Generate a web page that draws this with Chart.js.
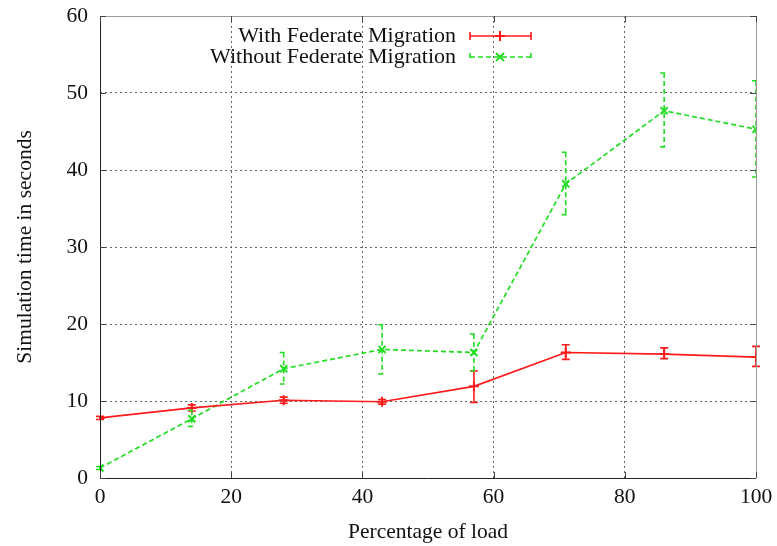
<!DOCTYPE html>
<html>
<head>
<meta charset="utf-8">
<script src="https://cdn.jsdelivr.net/npm/chart.js@4/dist/chart.umd.min.js"></script>
<style>
  html, body { margin: 0; padding: 0; background: #fff; }
  #wrap { width: 777px; height: 546px; }
</style>
</head>
<body>
<div id="wrap"><canvas id="simChart" width="777" height="546"></canvas></div>
<script>
// load levels (x axis)
const loadPct = [0, 14, 28, 43, 57, 71, 86, 100];

// with federate migration
const withMig = [7.8, 9.1, 10.1, 9.9, 11.9, 16.3, 16.1, 15.7];
const withLow = [7.6, 8.7, 9.7, 9.6, 9.8, 15.4, 15.5, 14.5];
const withHigh = [8.0, 9.5, 10.5, 10.2, 13.9, 17.3, 16.9, 17.1];

// without federate migration
const withoutMig = [1.3, 7.7, 14.2, 16.7, 16.3, 38.2, 47.7, 45.3];
const withoutLow = [1.1, 6.7, 12.2, 13.5, 13.9, 34.2, 43.0, 39.1];
const withoutHigh = [1.5, 8.8, 16.3, 19.9, 18.7, 42.3, 52.6, 51.6];

const seriesNames = ['With Federate Migration', 'Without Federate Migration'];
const xTicks = [0, 20, 40, 60, 80, 100];
const yTicks = [0, 10, 20, 30, 40, 50, 60];

const RED = '#ff1a1a';
const GREEN = '#22dd22';
const FONT = "'Liberation Serif', 'DejaVu Serif', serif";

function toPoints(xs, ys) {
  return xs.map((x, i) => ({ x: x, y: ys[i] }));
}

const errorBars = [
  { low: withLow, high: withHigh, color: RED, dash: [] },
  { low: withoutLow, high: withoutHigh, color: GREEN, dash: [5, 3] }
];

// error bars drawn through the chart scales
const errorBarPlugin = {
  id: 'errorBars',
  afterDatasetsDraw(chart) {
    const ctx = chart.ctx;
    const xs = chart.scales.x, ys = chart.scales.y;
    ctx.save();
    errorBars.forEach(eb => {
      ctx.strokeStyle = eb.color;
      ctx.lineWidth = 1.6;
      ctx.setLineDash(eb.dash);
      loadPct.forEach((v, i) => {
        const px = xs.getPixelForValue(v);
        const top = ys.getPixelForValue(eb.high[i]);
        const bot = ys.getPixelForValue(eb.low[i]);
        ctx.beginPath();
        ctx.moveTo(px, top); ctx.lineTo(px, bot);
        ctx.moveTo(px - 4, top); ctx.lineTo(px + 4, top);
        ctx.moveTo(px - 4, bot); ctx.lineTo(px + 4, bot);
        ctx.stroke();
      });
    });
    ctx.restore();
  }
};

// gnuplot style frame, inner ticks and legend
const framePlugin = {
  id: 'frame',
  afterDraw(chart) {
    const ctx = chart.ctx;
    const a = chart.chartArea;
    const xs = chart.scales.x, ys = chart.scales.y;
    ctx.save();
    ctx.setLineDash([]);
    ctx.lineWidth = 1;
    ctx.strokeStyle = '#999';
    ctx.beginPath();
    ctx.moveTo(a.left, a.top + 0.5); ctx.lineTo(a.right + 0.5, a.top + 0.5);
    ctx.lineTo(a.right + 0.5, a.bottom);
    ctx.stroke();
    ctx.strokeStyle = '#222';
    ctx.beginPath();
    ctx.moveTo(a.left + 0.5, a.top); ctx.lineTo(a.left + 0.5, a.bottom + 0.5);
    ctx.lineTo(a.right, a.bottom + 0.5);
    ctx.stroke();

    ctx.strokeStyle = '#444';
    yTicks.forEach(v => {
      const py = Math.round(ys.getPixelForValue(v)) + 0.5;
      ctx.beginPath();
      ctx.moveTo(a.left, py); ctx.lineTo(a.left + 6, py);
      ctx.moveTo(a.right, py); ctx.lineTo(a.right - 6, py);
      ctx.stroke();
    });
    xTicks.forEach(v => {
      const px = Math.round(xs.getPixelForValue(v)) + 0.5;
      ctx.beginPath();
      ctx.moveTo(px, a.bottom); ctx.lineTo(px, a.bottom - 6);
      ctx.moveTo(px, a.top); ctx.lineTo(px, a.top + 6);
      ctx.stroke();
    });

    // legend
    const rows = [
      { y: 36, color: RED, dash: [], mark: 'plus' },
      { y: 57, color: GREEN, dash: [5, 3], mark: 'x' }
    ];
    ctx.font = '22px ' + FONT;
    ctx.textAlign = 'right';
    ctx.textBaseline = 'middle';
    rows.forEach((r, i) => {
      ctx.fillStyle = '#111';
      ctx.fillText(seriesNames[i], 456, r.y);
      ctx.strokeStyle = r.color;
      ctx.lineWidth = 1.6;
      ctx.setLineDash(r.dash);
      ctx.beginPath();
      ctx.moveTo(470, r.y); ctx.lineTo(531, r.y);
      ctx.moveTo(470, r.y - 4); ctx.lineTo(470, r.y + 4);
      ctx.moveTo(531, r.y - 4); ctx.lineTo(531, r.y + 4);
      ctx.stroke();
      ctx.setLineDash([]);
      ctx.lineWidth = 2;
      ctx.beginPath();
      if (r.mark === 'plus') {
        ctx.moveTo(495, r.y); ctx.lineTo(505, r.y);
        ctx.moveTo(500, r.y - 5); ctx.lineTo(500, r.y + 5);
      } else {
        ctx.moveTo(496, r.y - 4); ctx.lineTo(504, r.y + 4);
        ctx.moveTo(496, r.y + 4); ctx.lineTo(504, r.y - 4);
      }
      ctx.stroke();
    });
    ctx.restore();
  }
};

const gridStyle = {
  color: '#666',
  lineWidth: 1,
  drawTicks: false
};

new Chart(document.getElementById('simChart'), {
  type: 'scatter',
  data: {
    datasets: [
      {
        label: seriesNames[0],
        data: toPoints(loadPct, withMig),
        showLine: true,
        borderColor: RED,
        backgroundColor: RED,
        borderWidth: 1.7,
        pointStyle: 'cross',
        pointRadius: 5,
        pointBorderWidth: 2
      },
      {
        label: seriesNames[1],
        data: toPoints(loadPct, withoutMig),
        showLine: true,
        borderColor: GREEN,
        backgroundColor: GREEN,
        borderWidth: 1.7,
        borderDash: [5, 3],
        pointStyle: 'crossRot',
        pointRadius: 5,
        pointBorderWidth: 2
      }
    ]
  },
  options: {
    responsive: false,
    animation: false,
    layout: { padding: { top: 16, right: 21, left: 0, bottom: 0 } },
    plugins: {
      legend: { display: false },
      tooltip: { enabled: false }
    },
    scales: {
      x: {
        type: 'linear',
        min: 0,
        max: 100,
        afterBuildTicks: s => { s.ticks = xTicks.map(v => ({ value: v })); },
        afterFit: s => { s.height = 68; s.paddingRight = 0; s.paddingLeft = 0; },
        grid: gridStyle,
        border: { display: false, dash: [2, 3] },
        ticks: { color: '#111', padding: 6, font: { family: FONT, size: 21.5 } },
        title: {
          display: true,
          text: 'Percentage of load',
          color: '#111',
          padding: { top: 0, bottom: 1 },
          font: { family: FONT, size: 21.5 }
        }
      },
      y: {
        type: 'linear',
        min: 0,
        max: 60,
        afterBuildTicks: s => { s.ticks = yTicks.map(v => ({ value: v })); },
        afterFit: s => { s.width = 100; s.paddingTop = 0; s.paddingBottom = 0; },
        grid: gridStyle,
        border: { display: false, dash: [2, 3] },
        ticks: { color: '#111', padding: 12, font: { family: FONT, size: 21.5 } },
        title: {
          display: true,
          text: 'Simulation time in seconds',
          color: '#111',
          padding: { top: 12, bottom: 0 },
          font: { family: FONT, size: 21.5 }
        }
      }
    }
  },
  plugins: [errorBarPlugin, framePlugin]
});
</script>
</body>
</html>
